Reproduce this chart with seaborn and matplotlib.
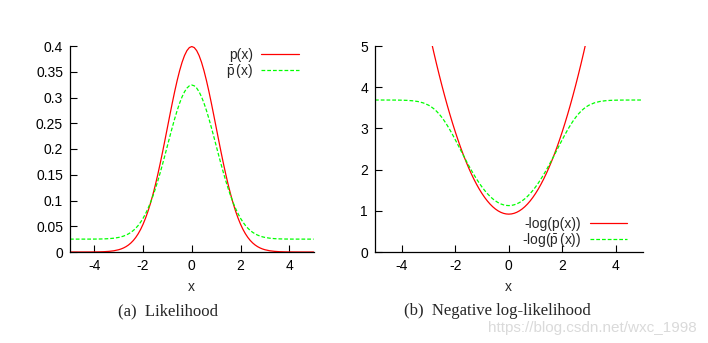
import numpy as np
import pandas as pd
import matplotlib
matplotlib.use("Agg")
import matplotlib.pyplot as plt
import seaborn as sns

# ---- data ----
x_half = [0.0, 0.1, 0.2, 0.3, 0.4, 0.5, 0.6, 0.7, 0.8, 0.9, 1.0, 1.1, 1.2,
          1.3, 1.4, 1.5, 1.6, 1.7, 1.8, 1.9, 2.0, 2.1, 2.2, 2.3, 2.4, 2.5,
          2.6, 2.7, 2.8, 2.9, 3.0, 3.2, 3.4, 3.6, 3.8, 4.0, 4.2, 4.4, 4.6,
          4.8, 5.0]
p_half = [0.39894, 0.39695, 0.39104, 0.38139, 0.36827, 0.35207, 0.33322,
          0.31225, 0.28969, 0.26609, 0.24197, 0.21785, 0.19419, 0.17137,
          0.14973, 0.12952, 0.11092, 0.09405, 0.07895, 0.06562, 0.05399,
          0.04398, 0.03547, 0.02833, 0.02239, 0.01753, 0.01358, 0.01042,
          0.00792, 0.00595, 0.00443, 0.00238, 0.00123, 0.00061, 0.00029,
          0.000134, 0.0000589, 0.0000249, 0.0000101, 0.0000040, 0.0000015]
pbar_half = [0.32421, 0.32271, 0.31828, 0.31104, 0.30120, 0.28905, 0.27492,
             0.25919, 0.24227, 0.22457, 0.20648, 0.18839, 0.17064, 0.15353,
             0.13730, 0.12214, 0.10819, 0.09554, 0.08421, 0.07422, 0.06549,
             0.05799, 0.05160, 0.04625, 0.04179, 0.03815, 0.03519, 0.03282,
             0.03094, 0.02946, 0.02832, 0.02679, 0.02592, 0.02546, 0.02522,
             0.02510, 0.02504, 0.02502, 0.02501, 0.02500, 0.02500]

# curves are symmetric about x = 0
x_vals = [-v for v in x_half[:0:-1]] + x_half
p_vals = p_half[:0:-1] + p_half
pbar_vals = pbar_half[:0:-1] + pbar_half

x_ticks = [-4, -2, 0, 2, 4]
y_ticks_left = [0, 0.05, 0.1, 0.15, 0.2, 0.25, 0.3, 0.35, 0.4]
y_ticks_right = [0, 1, 2, 3, 4, 5]
captions = ["(a)  Likelihood", "(b)  Negative log-likelihood"]
labels_left = ["p(x)", r"$\bar{\mathrm{p}}\,$(x)"]
labels_right = ["-log(p(x))", r"-log($\bar{\mathrm{p}}\,$(x))"]

# ---- style ----
sns.set_style("ticks")
plt.rcParams["font.family"] = ["Liberation Sans", "DejaVu Sans"]
plt.rcParams["mathtext.fontset"] = "custom"
plt.rcParams["mathtext.rm"] = "Liberation Sans"
plt.rcParams["mathtext.it"] = "Liberation Sans:italic"
plt.rcParams["axes.unicode_minus"] = False
plt.rcParams["xtick.direction"] = "in"
plt.rcParams["ytick.direction"] = "in"

RED = "#ff0000"
GREEN = "#00ff00"
FS = 10

fig = plt.figure(figsize=(7.08, 3.43), dpi=100)
W, H = 708, 343
axL = fig.add_axes([70 / W, 91 / H, 243.6 / W, 206 / H])
axR = fig.add_axes([375 / W, 91 / H, 267.5 / W, 206 / H])

df = pd.DataFrame({"x": x_vals, "p": p_vals, "pbar": pbar_vals})
df["nlp"] = -np.log(df["p"])
df["nlpbar"] = -np.log(df["pbar"])

sns.lineplot(data=df, x="x", y="p", ax=axL, color=RED, lw=0.9,
             label=labels_left[0])
sns.lineplot(data=df, x="x", y="pbar", ax=axL, color=GREEN, lw=0.9,
             label=labels_left[1]).lines[-1].set_dashes([3, 1.6])

sns.lineplot(data=df, x="x", y="nlp", ax=axR, color=RED, lw=0.9,
             label=labels_right[0])
sns.lineplot(data=df, x="x", y="nlpbar", ax=axR, color=GREEN, lw=0.9,
             label=labels_right[1]).lines[-1].set_dashes([3, 1.6])

for ax, yt, ymax in [(axL, y_ticks_left, 0.4), (axR, y_ticks_right, 5)]:
    ax.set_xlim(-5, 5)
    ax.set_ylim(0, ymax)
    ax.set_xticks(x_ticks)
    ax.set_xticklabels([str(t) for t in x_ticks])
    ax.set_yticks(yt)
    ax.set_yticklabels([("%g" % t) for t in yt])
    ax.tick_params(length=5, width=0.8, labelsize=FS, pad=5, colors="black")
    sns.despine(ax=ax)
    for s in ["left", "bottom"]:
        ax.spines[s].set_linewidth(0.9)
        ax.spines[s].set_color("black")
    ax.set_xlabel("x", fontsize=FS, labelpad=5)
    ax.set_ylabel("")

legL = axL.legend(loc="upper right", bbox_to_anchor=(0.94, 0.99),
                  frameon=False, fontsize=FS, markerfirst=False,
                  handlelength=2.7, handletextpad=0.6, labelspacing=0.0,
                  borderpad=0, borderaxespad=0)
legR = axR.legend(loc="lower right", bbox_to_anchor=(0.943, 0.015),
                  frameon=False, fontsize=FS, markerfirst=False,
                  handlelength=2.7, handletextpad=0.6, labelspacing=0.0,
                  borderpad=0, borderaxespad=0)
for leg in (legL, legR):
    for t in leg.get_texts():
        t.set_ha("right")

fig.text(168 / W, 1 - 311 / H, captions[0], ha="center", va="center",
         fontsize=12, family=["Liberation Serif", "DejaVu Serif"])
fig.text(497 / W, 1 - 311 / H, captions[1], ha="center", va="center",
         fontsize=12, family=["Liberation Serif", "DejaVu Serif"])
fig.text(697 / W, 1 - 332 / H, "https://blog.csdn.net/wxc_1998", ha="right",
         va="baseline", fontsize=11, color="#dadada")

fig.savefig("out.png", dpi=100)
